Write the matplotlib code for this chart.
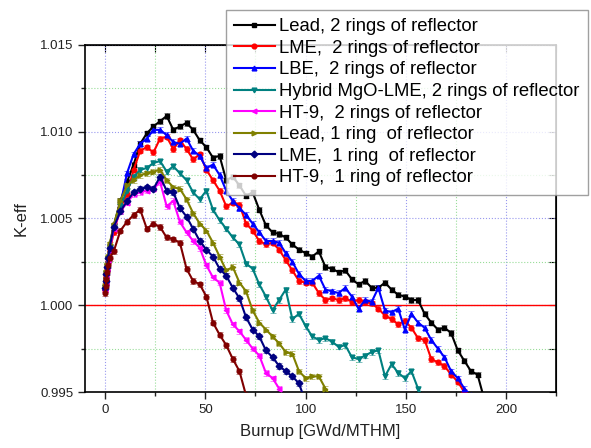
import matplotlib
matplotlib.use("Agg")
import matplotlib.pyplot as plt
from matplotlib.ticker import MultipleLocator, FormatStrFormatter

plt.rcParams["font.family"] = ["Liberation Sans", "DejaVu Sans"]

# shared burnup steps [GWd/MTHM]
burnup = [0.0, 0.3, 0.6, 1.0, 1.5, 2.2,
          4.3, 7.6, 10.9, 14.2, 17.5, 20.8, 24.1, 27.4, 30.7, 34.0,
          37.3, 40.6, 43.9, 47.2, 50.5, 53.8, 57.1, 60.4, 63.7, 67.0,
          70.3, 73.6, 76.9, 80.2, 83.5, 86.8, 90.1, 93.4, 96.7, 100.0,
          103.3, 106.6, 109.9, 113.2, 116.5, 119.8, 123.1, 126.4, 129.7, 133.0,
          136.3, 139.6, 142.9, 146.2, 149.5, 152.8, 156.1, 159.4, 162.7, 166.0,
          169.3, 172.6, 175.9, 179.2, 182.5, 185.8, 189.1]

lead_2 = [1.0010, 1.0014, 1.0018, 1.0022, 1.0027, 1.0034,
          1.0046, 1.0060, 1.0071, 1.0081, 1.0093, 1.0099, 1.0103, 1.0106, 1.0109, 1.0101,
          1.0103, 1.0105, 1.0101, 1.0095, 1.0091, 1.0085, 1.0086, 1.0072, 1.0074, 1.0069,
          1.0063, 1.0065, 1.0055, 1.0046, 1.0042, 1.0041, 1.0039, 1.0035, 1.0032, 1.0030,
          1.0028, 1.0031, 1.0022, 1.0021, 1.0019, 1.0020, 1.0015, 1.0012, 1.0014, 1.0010,
          1.0010, 1.0013, 1.0009, 1.0006, 1.0005, 1.0003, 1.0003, 0.9995, 0.9990, 0.9986,
          0.9987, 0.9984, 0.9974, 0.9968, 0.9962, 0.9960, 0.9946]
lme_2 = [1.0009, 1.0013, 1.0017, 1.0021, 1.0025, 1.0031,
         1.0042, 1.0056, 1.0064, 1.0078, 1.0089, 1.0091, 1.0088, 1.0096, 1.0097, 1.0090,
         1.0095, 1.0090, 1.0084, 1.0087, 1.0078, 1.0072, 1.0066, 1.0057, 1.0059, 1.0058,
         1.0047, 1.0043, 1.0037, 1.0035, 1.0036, 1.0032, 1.0026, 1.0020, 1.0014, 1.0013,
         1.0013, 1.0007, 1.0003, 1.0004, 1.0003, 1.0004, 1.0002, 1.0003, 1.0002, 1.0001,
         0.9998, 0.9994, 0.9992, 0.9989, 0.9991, 0.9987, 0.9981, 0.9980, 0.9969, 0.9967,
         0.9965, 0.9960, 0.9956, 0.9950, 0.9946]
lbe_2 = [1.0010, 1.0013, 1.0017, 1.0021, 1.0026, 1.0032,
         1.0045, 1.0058, 1.0076, 1.0087, 1.0093, 1.0096, 1.0101, 1.0101, 1.0098, 1.0094,
         1.0093, 1.0096, 1.0089, 1.0086, 1.0079, 1.0081, 1.0075, 1.0066, 1.0060, 1.0056,
         1.0052, 1.0047, 1.0042, 1.0037, 1.0037, 1.0036, 1.0030, 1.0025, 1.0018, 1.0014,
         1.0014, 1.0017, 1.0009, 1.0008, 1.0007, 1.0010, 1.0005, 0.9998, 1.0003, 1.0002,
         1.0010, 0.9997, 0.9996, 0.9998, 0.9986, 0.9995, 0.9990, 0.9987, 0.9980, 0.9975,
         0.9970, 0.9962, 0.9958, 0.9952, 0.9948]
hybrid_2 = [1.0010, 1.0014, 1.0018, 1.0022, 1.0027, 1.0033,
            1.0045, 1.0057, 1.0066, 1.0074, 1.0078, 1.0079, 1.0082, 1.0083, 1.0077, 1.0080,
            1.0076, 1.0072, 1.0065, 1.0061, 1.0066, 1.0055, 1.0049, 1.0044, 1.0039, 1.0035,
            1.0024, 1.0021, 1.0012, 1.0005, 0.9997, 1.0003, 1.0009, 0.9992, 0.9995, 0.9988,
            0.9982, 0.9980, 0.9981, 0.9979, 0.9976, 0.9977, 0.9970, 0.9969, 0.9971, 0.9973,
            0.9974, 0.9959, 0.9966, 0.9961, 0.9958, 0.9962, 0.9952, 0.9945]
ht9_2 = [1.0009, 1.0013, 1.0017, 1.0021, 1.0026, 1.0032,
         1.0044, 1.0054, 1.0059, 1.0064, 1.0065, 1.0066, 1.0067, 1.0071, 1.0057, 1.0060,
         1.0048, 1.0042, 1.0037, 1.0033, 1.0023, 1.0016, 1.0013, 0.9997, 0.9989, 0.9985,
         0.9980, 0.9975, 0.9971, 0.9961, 0.9958, 0.9952, 0.9946]
lead_1 = [1.0011, 1.0015, 1.0019, 1.0023, 1.0028, 1.0035,
          1.0046, 1.0060, 1.0069, 1.0072, 1.0075, 1.0076, 1.0077, 1.0078, 1.0072, 1.0068,
          1.0067, 1.0061, 1.0053, 1.0047, 1.0043, 1.0036, 1.0028, 1.0020, 1.0022, 1.0013,
          1.0008, 0.9997, 0.9990, 0.9986, 0.9982, 0.9978, 0.9973, 0.9972, 0.9962, 0.9958,
          0.9959, 0.9959, 0.9952, 0.9946]
lme_1 = [1.0010, 1.0014, 1.0018, 1.0022, 1.0027, 1.0033,
         1.0045, 1.0054, 1.0060, 1.0065, 1.0067, 1.0068, 1.0067, 1.0074, 1.0066, 1.0065,
         1.0056, 1.0051, 1.0044, 1.0037, 1.0032, 1.0028, 1.0021, 1.0017, 1.0010, 1.0004,
         0.9993, 0.9986, 0.9982, 0.9974, 0.9970, 0.9965, 0.9962, 0.9959, 0.9955, 0.9944]
ht9_1 = [1.0007, 1.0011, 1.0015, 1.0019, 1.0023, 1.0027,
         1.0031, 1.0043, 1.0048, 1.0052, 1.0055, 1.0044, 1.0047, 1.0045, 1.0039, 1.0038,
         1.0036, 1.0021, 1.0014, 1.0012, 1.0005, 0.9990, 0.9983, 0.9977, 0.9969, 0.9962,
         0.9948]

labels = ["Lead, 2 rings of reflector",
          "LME,  2 rings of reflector",
          "LBE,  2 rings of reflector",
          "Hybrid MgO-LME, 2 rings of reflector",
          "HT-9,  2 rings of reflector",
          "Lead, 1 ring  of reflector",
          "LME,  1 ring  of reflector",
          "HT-9,  1 ring of reflector"]
series = [lead_2, lme_2, lbe_2, hybrid_2, ht9_2, lead_1, lme_1, ht9_1]
colors = ["#000000", "#FF0000", "#0000FF", "#008080",
          "#FF00FF", "#808000", "#000080", "#800000"]
markers = ["s", "o", "^", "v", "<", ">", "D", "o"]
sigma = 0.00015   # statistical uncertainty on k-eff

fig = plt.figure(figsize=(5.91, 4.48), dpi=100)
ax = fig.add_axes([0.144, 0.125, 0.797, 0.775])

ax.axhline(1.0, color="#FF0000", linewidth=1.0, zorder=1.5)

for y, lab, c, m in zip(series, labels, colors, markers):
    x = burnup[:len(y)]
    ax.errorbar(x, y, yerr=sigma, fmt="none", ecolor=c, elinewidth=0.5,
                capsize=2.5, capthick=0.5, alpha=0.7, zorder=2)
    ax.plot(x, y, color=c, marker=m, markersize=3.4, linewidth=1.5,
            label=lab, zorder=3)

ax.set_xlim(-10, 225)
ax.set_ylim(0.995, 1.015)
ax.xaxis.set_major_locator(MultipleLocator(50))
ax.xaxis.set_minor_locator(MultipleLocator(25))
ax.yaxis.set_major_locator(MultipleLocator(0.005))
ax.yaxis.set_minor_locator(MultipleLocator(0.0025))
ax.yaxis.set_major_formatter(FormatStrFormatter("%.3f"))

ax.grid(which="major", color="#9999EE", linestyle=":", linewidth=0.8)
ax.grid(which="minor", color="#99DD99", linestyle=":", linewidth=0.8)
ax.set_axisbelow(True)

ax.tick_params(which="both", direction="out", top=False, right=False,
               labelsize=9.5, colors="#222222", width=1.0)
ax.tick_params(which="major", length=5)
ax.tick_params(which="minor", length=3)
ax2 = ax.secondary_xaxis("top")
ax2.xaxis.set_major_locator(MultipleLocator(25))
ax2.tick_params(direction="in", length=5, labeltop=False)
ax3 = ax.secondary_yaxis("right")
ax3.yaxis.set_major_locator(MultipleLocator(0.0025))
ax3.tick_params(direction="in", length=5, labelright=False)
for sp in ax.spines.values():
    sp.set_linewidth(1.2)

ax.set_xlabel("Burnup [GWd/MTHM]", fontsize=12, color="#222222", labelpad=6)
ax.set_ylabel("K-eff", fontsize=12, color="#222222", labelpad=8)

leg = fig.legend(loc="upper right", bbox_to_anchor=(0.995, 0.978),
                 bbox_transform=fig.transFigure,
                 fontsize=13.3, frameon=True, fancybox=False, edgecolor="#888888",
                 handlelength=2.2, labelspacing=0.25, borderpad=0.45,
                 handletextpad=0.25, borderaxespad=0)
leg.get_frame().set_linewidth(1.0)
leg.set_zorder(5)

plt.savefig("out.png", dpi=100)
plt.close(fig)
